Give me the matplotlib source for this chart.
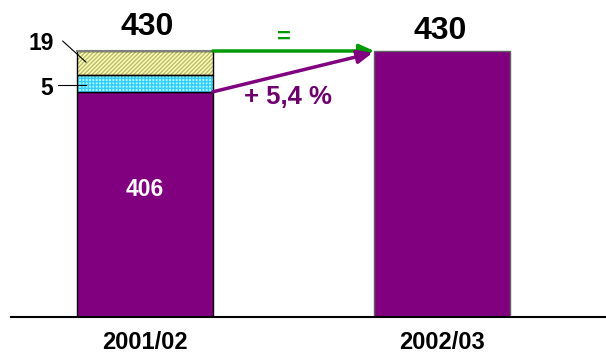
import matplotlib
matplotlib.use("Agg")
import matplotlib.pyplot as plt

plt.rcParams['font.family'] = ['Liberation Sans', 'DejaVu Sans']

categories = ['2001/02', '2002/03']
totals = [430, 430]
total_labels = ['430', '430']
# stacked segments of the first bar, bottom to top (heights as drawn in the picture)
seg_heights = [364, 27, 39]
seg_labels = ['406', '5', '19']
change_equal = '='
change_pct = '+ 5,4 %'

purple = '#800080'
green = '#009900'

W, H = 606, 355
fig = plt.figure(figsize=(W / 100, H / 100), dpi=100)
ax = fig.add_axes([11 / W, 38 / H, 595 / W, 317 / H])

x = [0, 1]
width = 0.457
ymax = totals[0] * 317 / 266
ax.set_xlim(-0.450, 1.55)
ax.set_ylim(0, ymax)

# first bar: stacked segments
b0 = 0
ax.bar(x[0], seg_heights[0], width, bottom=b0, color=purple, edgecolor='black', linewidth=1.0, zorder=2)
b1 = b0 + seg_heights[0]
ax.bar(x[0], seg_heights[1], width, bottom=b1, color='#B3FFFF', edgecolor='#33CCFF', hatch='+++++', linewidth=0, zorder=2)
ax.bar(x[0], seg_heights[1], width, bottom=b1, fill=False, edgecolor='black', linewidth=1.0, zorder=3)
b2 = b1 + seg_heights[1]
ax.bar(x[0], seg_heights[2], width, bottom=b2, color='#FFFFA8', edgecolor='#B8B880', hatch='////////', linewidth=0, zorder=2)
ax.bar(x[0], seg_heights[2], width, bottom=b2, fill=False, edgecolor='black', linewidth=1.0, zorder=3)
ax.plot([x[0] - width / 2, x[0] + width / 2], [totals[0], totals[0]], color='#808080', lw=1.5, zorder=4)

# second bar
ax.bar(x[1], totals[1], width, color=purple, edgecolor='#606060', linewidth=1.0, zorder=2)

ax.text(x[0] + 0.008, totals[0] + 26, total_labels[0], ha='center', va='baseline', fontsize=23, fontweight='bold')
ax.text(x[1] - 0.008, totals[1] + 19.5, total_labels[1], ha='center', va='baseline', fontsize=23, fontweight='bold')

# segment labels
ax.text(x[0], 195.6, seg_labels[0], color='white', ha='center', va='baseline',
        fontsize=16.5, fontweight='bold')
ax.plot([-0.292, -0.198], [375, 375], color='black', lw=0.8, zorder=5)
ax.text(-0.309, 359, seg_labels[1], ha='right', va='baseline', fontsize=16.5, fontweight='bold')
ax.plot([-0.276, -0.198], [446, 412], color='black', lw=0.8, zorder=5)
ax.text(-0.306, 431.6, seg_labels[2], ha='right', va='baseline', fontsize=16.5, fontweight='bold')

# arrows
x_from = x[0] + width / 2
x_to = x[1] - width / 2
ax.annotate('', xy=(x_to, totals[1]), xytext=(x_from, totals[0]),
            arrowprops=dict(arrowstyle='-|>,head_length=0.9,head_width=0.4', color=green, lw=2.5,
                            shrinkA=0, shrinkB=0), zorder=6)
ax.annotate('', xy=(x_to - 0.006, totals[1] - 3), xytext=(x_from, seg_heights[0]),
            arrowprops=dict(arrowstyle='-|>,head_length=0.9,head_width=0.4', color=purple, lw=2.5,
                            shrinkA=0, shrinkB=0), zorder=6)
ax.text(0.467, 452, change_equal, color=green, ha='center', va='center',
        fontsize=17, fontweight='bold')
ax.text(0.48, 355, change_pct, color='#6E006E', ha='center', va='center',
        fontsize=18.5, fontweight='bold')

for s in ['top', 'right', 'left']:
    ax.spines[s].set_visible(False)
ax.spines['bottom'].set_linewidth(1.5)
ax.set_yticks([])
ax.set_xticks(x)
ax.set_xticklabels(categories, fontsize=17, fontweight='bold')
ax.tick_params(axis='x', length=0, pad=10)

fig.savefig('out.png', dpi=100)
